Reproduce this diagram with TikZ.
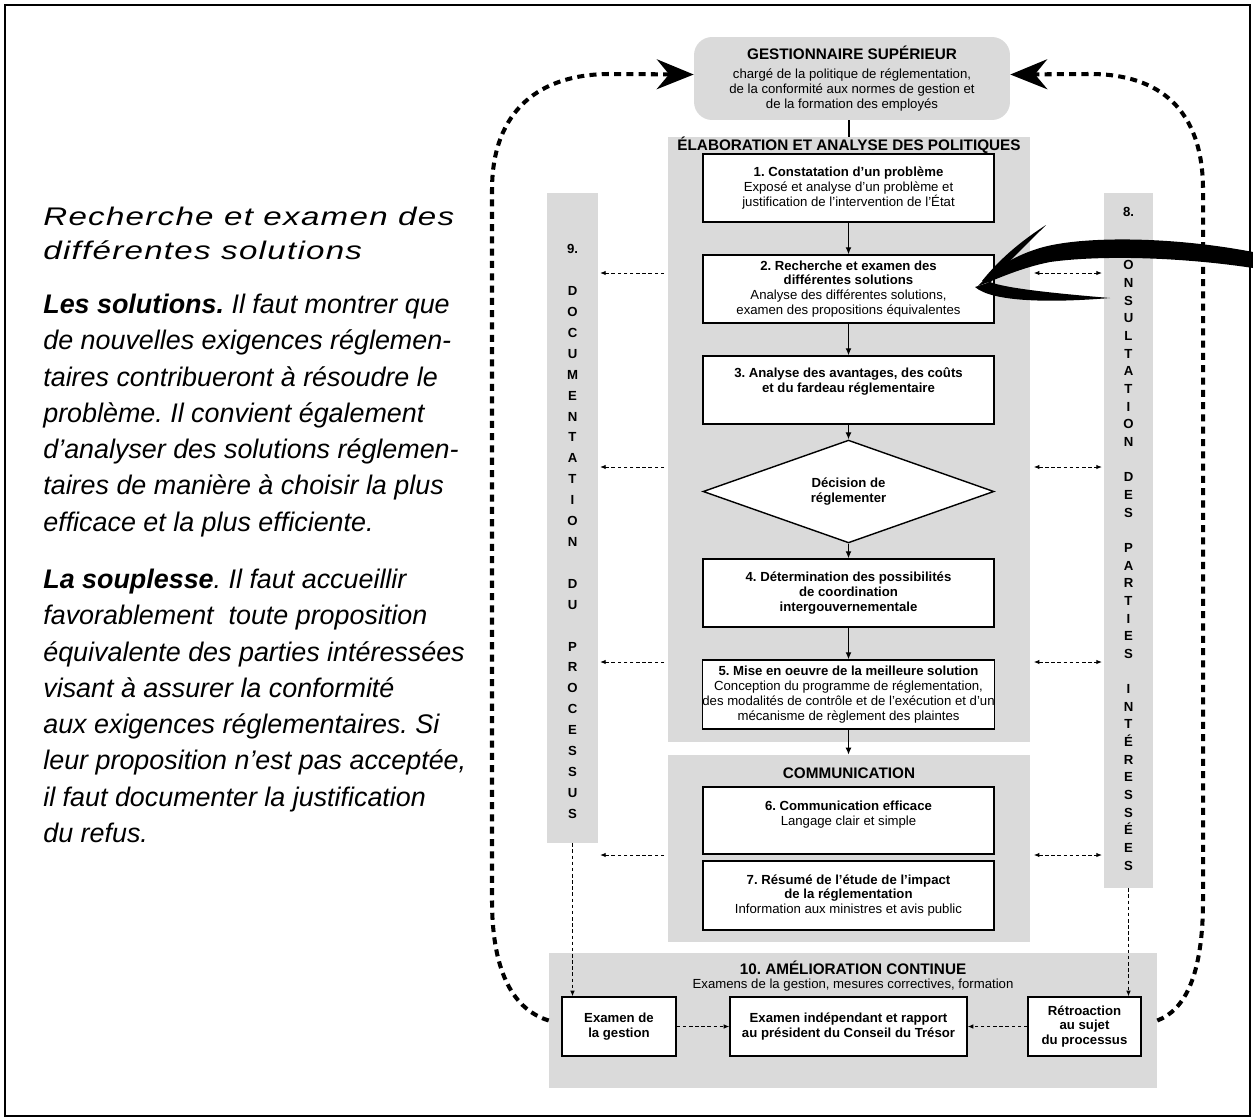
\documentclass[tikz,border=0pt]{standalone}
\usepackage{fontspec}
\setmainfont{Liberation Sans}
\newfontfamily\headfont[FakeStretch=1.3,LetterSpace=5]{Liberation Sans}
\usetikzlibrary{shapes.geometric,arrows.meta,calc}
\definecolor{panelgray}{RGB}{218,218,218}
\frenchspacing

\tikzset{
  panel/.style={fill=panelgray, inner sep=0pt},
  stepbox/.style={draw=black, line width=0.8pt, fill=white, align=center,
    inner sep=0pt, minimum width=5.82cm, font=\fontsize{7.5}{8.5}\selectfont},
  smallbox/.style={draw=black, line width=0.8pt, fill=white, align=center,
    inner sep=0pt, minimum height=1.18cm, font=\fontsize{7.5}{8.5}\selectfont\bfseries},
  ptitle/.style={font=\fontsize{8.7}{10}\selectfont\bfseries, inner sep=0pt},
  flow/.style={line width=0.7pt, -{Latex[length=4pt,width=3.4pt]}},
  dasharrow/.style={line width=0.55pt, dash pattern=on 2pt off 1.5pt,
    -{Latex[length=3.2pt,width=2.6pt]}},
  dasharrows/.style={line width=0.55pt, dash pattern=on 2pt off 1.5pt,
    {Latex[length=3.2pt,width=2.6pt]}-{Latex[length=3.2pt,width=2.6pt]}},
  loop/.style={line width=2.3pt, dash pattern=on 4pt off 3pt,
    -{Stealth[length=21pt,width=17pt,inset=7pt]}},
  body/.style={anchor=base west, inner sep=0pt,
    font=\fontsize{15.3}{18}\selectfont\itshape},
  head/.style={anchor=base west, inner sep=0pt,
    font=\fontsize{14.5}{18}\headfont\itshape},
  colletters/.style={align=center, inner sep=0pt}
}

\begin{document}
\begin{tikzpicture}[x=0.02cm, y=-0.02cm]
\useasboundingbox (0,0) rectangle (1253,1119);

% outer frame
\draw[line width=1.4pt] (5,5) rectangle (1250,1116);

% grey panels and side columns
\node[panel, rounded corners=0.36cm, minimum width=6.32cm, minimum height=1.66cm,
  align=center, font=\fontsize{7.5}{8.5}\selectfont] (top) at (852,78.5)
  {{\fontsize{8.7}{10}\selectfont\bfseries GESTIONNAIRE SUPÉRIEUR}\\[2pt]
   chargé de la politique de réglementation,\\
   de la conformité aux normes de gestion et\\
   de la formation des employés};
\node[panel, minimum width=7.24cm, minimum height=12.1cm] (main) at (849,439.5) {};
\node[panel, minimum width=7.24cm, minimum height=3.74cm] (comm) at (849,848.5) {};
\node[panel, minimum width=12.16cm, minimum height=2.7cm] (p10) at (853,1020.5) {};
\node[panel, minimum width=1.02cm, minimum height=13.0cm] (lcol) at (572.5,518) {};
\node[panel, minimum width=0.98cm, minimum height=13.9cm] (rcol) at (1128.5,540.5) {};

% panel titles
\node[ptitle] (mainT) at (849,145) {ÉLABORATION ET ANALYSE DES POLITIQUES};
\node[ptitle] (commT) at (849,773) {COMMUNICATION};
\node[ptitle] (p10T) at (853,968) {10. AMÉLIORATION CONTINUE};
\node[inner sep=0pt, font=\fontsize{7.5}{8.5}\selectfont] (p10S) at (853,985)
  {Examens de la gestion, mesures correctives, formation};

% column lettering
\node[colletters, font=\fontsize{7.5}{11.9}\selectfont\bfseries] (lcolT) at (572.5,531.5)
  {9.\\~\\D\\O\\C\\U\\M\\E\\N\\T\\A\\T\\I\\O\\N\\~\\D\\U\\~\\P\\R\\O\\C\\E\\S\\S\\U\\S};
\node[colletters, font=\fontsize{7.5}{10.05}\selectfont\bfseries] (rcolT) at (1128.5,539)
  {8.\\~\\C\\O\\N\\S\\U\\L\\T\\A\\T\\I\\O\\N\\~\\D\\E\\S\\~\\P\\A\\R\\T\\I\\E\\S\\~\\I\\N\\T\\É\\R\\E\\S\\S\\É\\E\\S};

% process steps
\node[stepbox, minimum height=1.36cm] (b1) at (848.5,188)
  {\textbf{1. Constatation d’un problème}\\
   Exposé et analyse d’un problème et\\
   justification de l’intervention de l’État};
\node[stepbox, minimum height=1.36cm] (b2) at (848.5,289)
  {\textbf{2. Recherche et examen des}\\
   \textbf{différentes solutions}\\
   Analyse des différentes solutions,\\
   examen des propositions équivalentes};
\node[stepbox, minimum height=1.36cm] (b3) at (848.5,390)
  {\textbf{3. Analyse des avantages, des coûts}\\
   \textbf{et du fardeau réglementaire}\\[3pt]~};
\node[stepbox, diamond, minimum height=1.38cm] (dec) at (848.5,491.5)
  {\textbf{Décision de}\\\textbf{réglementer}};
\node[stepbox, minimum height=1.36cm] (b4) at (848.5,593)
  {\textbf{4. Détermination des possibilités}\\
   \textbf{de coordination}\\
   \textbf{intergouvernementale}};
\node[stepbox, minimum height=1.38cm] (b5) at (848.5,694.5)
  {\textbf{5. Mise en oeuvre de la meilleure solution}\\
   Conception du programme de réglementation,\\
   des modalités de contrôle et de l’exécution et d’un\\
   mécanisme de règlement des plaintes};
\node[stepbox, minimum height=1.34cm] (b6) at (848.5,820.5)
  {\textbf{6. Communication efficace}\\
   Langage clair et simple\\~};
\node[stepbox, minimum height=1.38cm] (b7) at (848.5,895.5)
  {\textbf{7. Résumé de l’étude de l’impact}\\
   \textbf{de la réglementation}\\
   Information aux ministres et avis public};

% continuous improvement boxes
\node[smallbox, minimum width=2.28cm] (bL) at (619,1026.5) {Examen de\\la gestion};
\node[smallbox, minimum width=4.74cm] (bM) at (848.5,1026.5)
  {Examen indépendant et rapport\\au président du Conseil du Trésor};
\node[smallbox, minimum width=2.26cm] (bR) at (1084.5,1026.5)
  {Rétroaction\\au sujet\\du processus};

% main flow
\draw[line width=0.8pt] (main.north |- top.south) -- (main.north);
\draw[flow] (b1) -- (b2);
\draw[flow] (b2) -- (b3);
\draw[flow] (b3) -- (dec);
\draw[flow] (dec) -- (b4);
\draw[flow] (b4) -- (b5);
\draw[flow] (b5.south) -- (b5.south |- comm.north);

% links to the side columns
\coordinate (yA) at (0,273);
\coordinate (yB) at (0,467);
\coordinate (yC) at (0,662);
\coordinate (yD) at (0,855);
\foreach \lvl in {yA,yB,yC} {
  \draw[dasharrow, shorten <=2pt, shorten >=1pt] (main.west |- \lvl) -- (lcol.east |- \lvl);
  \draw[dasharrows, shorten <=2pt, shorten >=1pt] (main.east |- \lvl) -- (rcol.west |- \lvl);
}
\draw[dasharrow, shorten <=2pt, shorten >=1pt] (comm.west |- yD) -- (lcol.east |- yD);
\draw[dasharrows, shorten <=2pt, shorten >=1pt] (comm.east |- yD) -- (rcol.west |- yD);

% links into the improvement stage
\draw[dasharrow] (lcol.south) -- (lcol.south |- bL.north);
\draw[dasharrow] (rcol.south) -- (rcol.south |- bR.north);
\draw[dasharrow] (bL.east) -- (bM.west);
\draw[dasharrow] (bR.west) -- (bM.east);

% feedback loops back to the senior manager
\coordinate (tipL) at ($(top.west)+(0,-4)$);
\coordinate (tipR) at ($(top.east)+(0,-4)$);
\draw[loop] (p10.west) .. controls (515,1010) and (492,975) .. (492,900)
  -- (492,190) .. controls (492,110) and (540,74) .. (610,74) -- (tipL);
\draw[loop] (p10.east) .. controls (1185,1010) and (1203,975) .. (1203,900)
  -- (1203,190) .. controls (1203,110) and (1160,74) .. (1090,74) -- (tipR);

% brush-stroke pointer towards step 2
\fill (1253,252) .. controls (1170,236) and (1080,236) .. (1040,248)
  .. controls (1010,257) and (992,271) .. (978,286)
  .. controls (1000,278) and (1020,268) .. (1050,262)
  .. controls (1100,255) and (1180,257) .. (1253,268) -- cycle;
\fill (982,281) .. controls (998,261) and (1018,243) .. (1046,225)
  .. controls (1024,247) and (1006,264) .. (990,283) -- cycle;
\fill (975,287) .. controls (992,302) and (1050,303) .. (1110,298)
  .. controls (1050,293) and (1005,288) .. (990,282) -- cycle;

% explanatory text
\node[head] (h1) at (43,225) {Recherche et examen des};
\node[head] (h2) at (43,259) {différentes solutions};
\node[body] (l1) at (43,313) {\textbf{Les solutions.} Il faut montrer que};
\node[body] (l2) at (43,349) {de nouvelles exigences réglemen-};
\node[body] (l3) at (43,386) {taires contribueront à résoudre le};
\node[body] (l4) at (43,422) {problème. Il convient également};
\node[body] (l5) at (43,458) {d’analyser des solutions réglemen-};
\node[body] (l6) at (43,494) {taires de manière à choisir la plus};
\node[body] (l7) at (43,531) {efficace et la plus efficiente.};
\node[body] (l8) at (43,588) {\textbf{La souplesse}. Il faut accueillir};
\node[body] (l9) at (43,624) {favorablement\ \ toute proposition};
\node[body] (l10) at (43,661) {équivalente des parties intéressées};
\node[body] (l11) at (43,697) {visant à assurer la conformité};
\node[body] (l12) at (43,733) {aux exigences réglementaires. Si};
\node[body] (l13) at (43,769) {leur proposition n’est pas acceptée,};
\node[body] (l14) at (43,806) {il faut documenter la justification};
\node[body] (l15) at (43,842) {du refus.};
\end{tikzpicture}
\end{document}
